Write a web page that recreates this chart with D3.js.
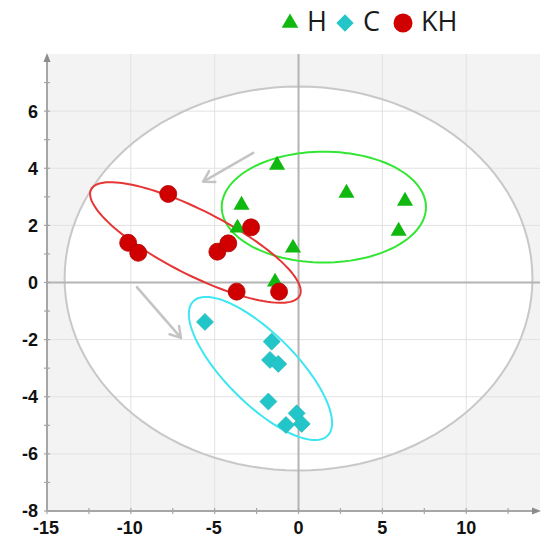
<!DOCTYPE html>
<html><head><meta charset="utf-8">
<script src="https://cdn.jsdelivr.net/npm/d3@7"></script>
<style>html,body{margin:0;padding:0;background:#fff;}svg{display:block;}</style>
</head><body>
<svg id="c" width="542" height="543"></svg>
<script>
// ---- data ----
const groups = ["H", "C", "KH"];
const hX = [-1.28, -3.40, 2.86, 6.35, -3.64, 5.97, -0.33, -1.40];
const hY = [4.11, 2.71, 3.13, 2.85, 1.91, 1.80, 1.21, 0.02];
const cX = [-5.58, -1.60, -1.70, -1.21, -1.80, -0.11, 0.19, -0.75];
const cY = [-1.38, -2.07, -2.71, -2.85, -4.17, -4.58, -4.95, -4.99];
const khX = [-7.77, -10.16, -9.56, -4.84, -4.19, -2.83, -3.69, -1.16];
const khY = [3.10, 1.39, 1.04, 1.08, 1.37, 1.93, -0.32, -0.32];
const xTicks = [-15, -10, -5, 0, 5, 10];
const yTicks = [-8, -6, -4, -2, 0, 2, 4, 6];
// confidence ellipses: center and two conjugate semi-axis vectors (data units)
const ellipseNames = ["T2", "H", "C", "KH"];
const ellipseCenter = [[0, 0.14], [1.51, 2.64], [-2.27, -3.01], [-6.15, 1.40]];
const ellipseAxisA = [[13.95, 0], [6.09, 0], [4.01, -2.35], [6.22, -1.86]];
const ellipseAxisB = [[0, 6.72], [0, 1.94], [-1.47, -0.87], [-0.87, -1.00]];
// gray annotation arrows (data units): start -> end
const arrowStart = [[-2.70, 4.54], [-9.64, -0.16]];
const arrowEnd = [[-5.68, 3.53], [-7.01, -1.94]];

// ---- drawing ----
const svg = d3.select("#c");
const x = d3.scaleLinear().domain([-15, 14.4]).range([47, 540]);
const y = d3.scaleLinear().domain([-8, 8]).range([511, 54]);

const colGreen = "#10b810", colCyan = "#22c6c9", colRed = "#d00000";
const ellStroke = ["#c8c8c8", "#33e633", "#3ee6f2", "#e53535"];

// plot background
svg.append("rect").attr("x", x(-15)).attr("y", y(8)).attr("width", x(14.4) - x(-15))
  .attr("height", y(-8) - y(8)).attr("fill", "#f3f3f3");

function ellipsePts(i) {
  return d3.range(0, 121).map(k => {
    const t = k / 120 * 2 * Math.PI;
    const c = ellipseCenter[i], a = ellipseAxisA[i], b = ellipseAxisB[i];
    return [c[0] + a[0] * Math.cos(t) + b[0] * Math.sin(t), c[1] + a[1] * Math.cos(t) + b[1] * Math.sin(t)];
  });
}
const line = d3.line().x(d => x(d[0])).y(d => y(d[1])).curve(d3.curveLinearClosed);

// big T2 ellipse fill
svg.append("path").attr("d", line(ellipsePts(0))).attr("fill", "#ffffff");

// grid
const g = svg.append("g");
g.selectAll(".gx").data(xTicks.filter(v => v !== 0 && v !== -15)).enter().append("line")
  .attr("x1", d => x(d)).attr("x2", d => x(d)).attr("y1", y(8)).attr("y2", y(-8))
  .attr("stroke", "#e2e2e2").attr("stroke-width", 1);
g.selectAll(".gy").data(yTicks.filter(v => v !== 0 && v !== -8)).enter().append("line")
  .attr("y1", d => y(d)).attr("y2", d => y(d)).attr("x1", x(-15)).attr("x2", x(14.4))
  .attr("stroke", "#e2e2e2").attr("stroke-width", 1);

// T2 ellipse stroke
svg.append("path").attr("d", line(ellipsePts(0))).attr("fill", "none")
  .attr("stroke", ellStroke[0]).attr("stroke-width", 2);

// zero lines
svg.append("line").attr("x1", x(0)).attr("x2", x(0)).attr("y1", y(8)).attr("y2", y(-8))
  .attr("stroke", "#b4b4b4").attr("stroke-width", 2);
svg.append("line").attr("y1", y(0)).attr("y2", y(0)).attr("x1", x(-15)).attr("x2", x(14.4))
  .attr("stroke", "#b4b4b4").attr("stroke-width", 2);

// axes
const axisCol = "#a6a6a6";
svg.append("line").attr("x1", x(-15)).attr("x2", x(-15)).attr("y1", y(-8)).attr("y2", y(8) + 2)
  .attr("stroke", axisCol).attr("stroke-width", 2);
svg.append("line").attr("x1", x(-15)).attr("x2", x(14.4) - 2).attr("y1", y(-8)).attr("y2", y(-8))
  .attr("stroke", axisCol).attr("stroke-width", 2);
svg.append("path").attr("d", `M${x(-15) - 3.5},${y(8) + 8}L${x(-15)},${y(8) - 1}L${x(-15) + 3.5},${y(8) + 8}Z`).attr("fill", "#8c8c8c");
svg.append("path").attr("d", `M${x(14.4) - 8},${y(-8) - 3.5}L${x(14.4) + 1},${y(-8)}L${x(14.4) - 8},${y(-8) + 3.5}Z`).attr("fill", "#8c8c8c");

// ticks (major + minor)
const yMinor = d3.range(-8, 8, 1);
svg.selectAll(".yt").data(yMinor).enter().append("line")
  .attr("x1", x(-15) - 3).attr("x2", x(-15) + 3).attr("y1", d => y(d)).attr("y2", d => y(d))
  .attr("stroke", axisCol).attr("stroke-width", 1.2);
const xMinor = d3.range(-15, 14.4, 2.5);
svg.selectAll(".xt").data(xMinor).enter().append("line")
  .attr("y1", y(-8) - 3).attr("y2", y(-8) + 3).attr("x1", d => x(d)).attr("x2", d => x(d))
  .attr("stroke", axisCol).attr("stroke-width", 1.2);

// tick labels
svg.selectAll(".yl").data(yTicks).enter().append("text")
  .attr("x", x(-15) - 9).attr("y", d => y(d)).attr("dy", "0.36em")
  .attr("text-anchor", "end").attr("font-family", "Liberation Sans, Arial, sans-serif")
  .attr("font-weight", "bold").attr("font-size", 18).attr("fill", "#111").text(d => d);
svg.selectAll(".xl").data(xTicks).enter().append("text")
  .attr("x", d => x(d) + (d < 0 ? -1 : 0)).attr("y", 534)
  .attr("text-anchor", "middle").attr("font-family", "Liberation Sans, Arial, sans-serif")
  .attr("font-weight", "bold").attr("font-size", 18).attr("fill", "#111").text(d => d);

// group ellipses
[1, 2, 3].forEach(i => {
  svg.append("path").attr("d", line(ellipsePts(i))).attr("fill", "none")
    .attr("stroke", ellStroke[i]).attr("stroke-width", 2);
});

// arrows
arrowStart.forEach((s, i) => {
  const e = arrowEnd[i];
  const x1 = x(s[0]), y1 = y(s[1]), x2 = x(e[0]), y2 = y(e[1]);
  const ang = Math.atan2(y2 - y1, x2 - x1);
  const L = 12, spread = 0.55;
  svg.append("line").attr("x1", x1).attr("y1", y1).attr("x2", x2).attr("y2", y2)
    .attr("stroke", "#c4c4c4").attr("stroke-width", 2.5).attr("stroke-linecap", "round");
  const p1 = [x2 - L * Math.cos(ang - spread), y2 - L * Math.sin(ang - spread)];
  const p2 = [x2 - L * Math.cos(ang + spread), y2 - L * Math.sin(ang + spread)];
  svg.append("path").attr("d", `M${p1[0]},${p1[1]}L${x2},${y2}L${p2[0]},${p2[1]}`)
    .attr("fill", "none").attr("stroke", "#c4c4c4").attr("stroke-width", 2.5)
    .attr("stroke-linecap", "round").attr("stroke-linejoin", "round");
});

// points
const tri = d3.symbol(d3.symbolTriangle, 112);
const sq = d3.symbol(d3.symbolSquare, 145);
svg.selectAll(".h").data(d3.zip(hX, hY)).enter().append("path")
  .attr("d", tri).attr("transform", d => `translate(${x(d[0])},${y(d[1])})`)
  .attr("fill", colGreen);
svg.selectAll(".cc").data(d3.zip(cX, cY)).enter().append("path")
  .attr("d", sq).attr("transform", d => `translate(${x(d[0])},${y(d[1])}) rotate(45)`)
  .attr("fill", colCyan).attr("stroke", "#1fb5b8").attr("stroke-width", 0.6);
svg.selectAll(".kh").data(d3.zip(khX, khY)).enter().append("circle")
  .attr("cx", d => x(d[0])).attr("cy", d => y(d[1])).attr("r", 8.5)
  .attr("fill", colRed).attr("stroke", "#b00000").attr("stroke-width", 0.8);

// legend
const lg = svg.append("g").attr("font-family", "Open Sans, Liberation Sans, sans-serif")
  .attr("font-size", 27).attr("fill", "#1a1a1a");
lg.append("path").attr("d", d3.symbol(d3.symbolTriangle, 120)).attr("transform", "translate(290,23)").attr("fill", colGreen);
lg.append("text").attr("x", 307).attr("y", 31).text(groups[0]);
lg.append("path").attr("d", d3.symbol(d3.symbolSquare, 150)).attr("transform", "translate(345,23) rotate(45)").attr("fill", colCyan);
lg.append("text").attr("x", 363).attr("y", 31).text(groups[1]);
lg.append("circle").attr("cx", 403).attr("cy", 23).attr("r", 9.5).attr("fill", colRed);
lg.append("text").attr("x", 421).attr("y", 31).text(groups[2]);
</script>
</body></html>
